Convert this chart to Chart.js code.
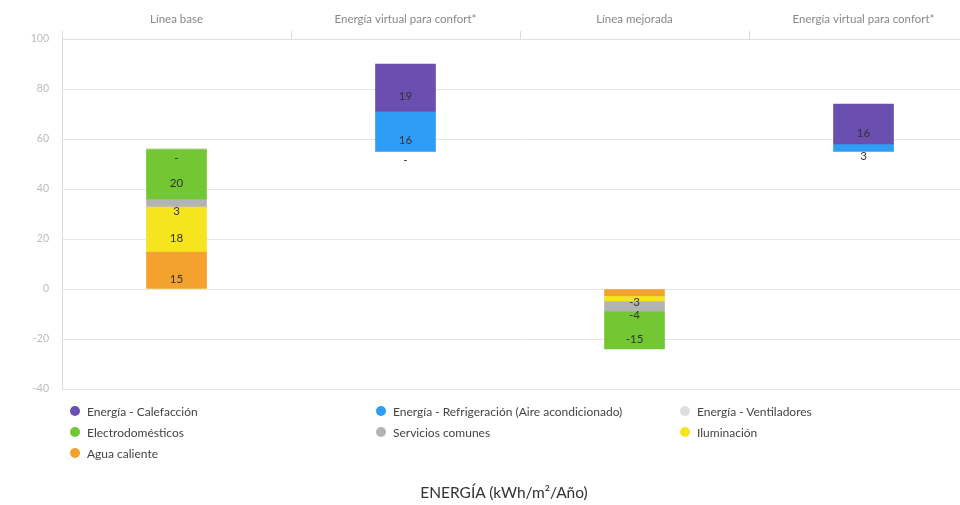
<!DOCTYPE html>
<html>
<head>
<meta charset="utf-8">
<script src="https://cdn.jsdelivr.net/npm/chart.js@4/dist/chart.umd.min.js"></script>
<style>
  html, body { margin: 0; padding: 0; background: #fff; overflow: hidden; width: 960px; height: 505px; }
  #wrap { position: absolute; left: 0; top: 0; width: 978px; height: 395px; }
  #legend { position: absolute; left: 0; top: 0; width: 960px; height: 505px; pointer-events: none;
            font-family: Lato, "Open Sans", sans-serif; font-size: 12px; color: #444; }
  .item { position: absolute; display: flex; align-items: center; white-space: nowrap; height: 14px; }
  .dot { width: 10px; height: 10px; border-radius: 50%; margin-right: 7px; flex: none; }
  #title { position: absolute; left: 0; top: 483px; width: 1008px; text-align: center;
           font-family: Lato, "Open Sans", sans-serif; font-size: 15.5px; line-height: 18px; color: #333; }
</style>
</head>
<body>
<div id="wrap"><canvas id="chart" width="978" height="395"></canvas></div>
<div id="legend"></div>
<div id="title">ENERGÍA (kWh/m²/Año)</div>
<script>
// Categories along the top axis
const categories = ['Línea base', 'Energía virtual para confort*', 'Línea mejorada', 'Energía virtual para confort*'];

// Level each column starts from (the "virtual" columns float above the baseline)
const startLevel = [0, 55, 0, 55];

// Energy by use, kWh/m²/año (null = not part of that column)
const calefaccion       = [null, 19, null, 16];
const refrigeracion     = [null, 16, null, 3];
const ventiladores      = [0, 0, null, null];
const electrodomesticos = [20, null, -15, null];
const serviciosComunes  = [3, null, -4, null];
const iluminacion       = [18, null, -2, null];
const aguaCaliente      = [15, null, -3, null];

// Value axis ticks
const yTicks = [-40, -20, 0, 20, 40, 60, 80, 100];

// Series in legend order
const series = [
  { label: 'Energía - Calefacción', values: calefaccion, color: '#6a4fb0' },
  { label: 'Energía - Refrigeración (Aire acondicionado)', values: refrigeracion, color: '#2f9cf6' },
  { label: 'Energía - Ventiladores', values: ventiladores, color: '#dedede' },
  { label: 'Electrodomésticos', values: electrodomesticos, color: '#72c732' },
  { label: 'Servicios comunes', values: serviciosComunes, color: '#b3b3b3' },
  { label: 'Iluminación', values: iluminacion, color: '#f6e41e' },
  { label: 'Agua caliente', values: aguaCaliente, color: '#f3a22e' }
];

// Stacking goes bottom-up in the reverse of the legend order
const stackOrder = series.slice().reverse();
const posLevel = startLevel.slice();
const negLevel = startLevel.slice();
stackOrder.forEach(s => {
  s.ranges = s.values.map((v, i) => {
    if (v === null) return null;
    if (v >= 0) { const a = posLevel[i]; posLevel[i] += v; return [a, posLevel[i]]; }
    const a = negLevel[i]; negLevel[i] += v; return [a, negLevel[i]];
  });
});

// Value labels, drawn just below each segment's middle; crowded ones are skipped
const segmentLabels = {
  id: 'segmentLabels',
  afterDatasetsDraw(chart) {
    const ctx = chart.ctx;
    ctx.save();
    ctx.font = '11.5px Lato, "Open Sans", sans-serif';
    ctx.fillStyle = '#333';
    ctx.textAlign = 'center';
    ctx.textBaseline = 'middle';
    categories.forEach((c, i) => {
      let lastY = null;
      stackOrder.forEach(s => {
        const v = s.values[i];
        if (v === null) return;
        const bar = chart.getDatasetMeta(series.indexOf(s)).data[i];
        const y = (bar.y + bar.base) / 2 + 9;
        if (lastY !== null && Math.abs(y - lastY) < 9) return;
        ctx.fillText(v === 0 ? '-' : String(v), bar.x, y);
        lastY = y;
      });
    });
    ctx.restore();
  }
};

new Chart(document.getElementById('chart'), {
  type: 'bar',
  data: {
    labels: categories,
    datasets: series.map(s => ({
      label: s.label,
      data: s.ranges,
      backgroundColor: s.color,
      borderWidth: 0,
      barThickness: 60,
      grouped: false
    }))
  },
  options: {
    responsive: false,
    animation: false,
    layout: { padding: { left: 0, right: 0, top: 0, bottom: 6 } },
    plugins: { legend: { display: false }, tooltip: { enabled: false } },
    scales: {
      x: {
        position: 'top',
        offset: true,
        grid: { offset: true, drawOnChartArea: false, drawTicks: true, tickLength: 8, color: '#dcdcdc' },
        border: { color: '#e0e0e0' },
        ticks: { color: '#888', padding: 5, font: { family: 'Lato', size: 11.5 }, maxRotation: 0 },
        afterFit(scale) { scale.height = 39; scale.paddingLeft = 0; scale.paddingRight = 0; }
      },
      y: {
        min: -40,
        max: 100,
        grid: { color: '#e6e6e6', drawTicks: false },
        border: { color: '#dcdcdc' },
        ticks: { color: '#bbb', padding: 13, font: { family: 'Lato', size: 10.5 } },
        afterBuildTicks(scale) { scale.ticks = yTicks.map(v => ({ value: v })); },
        afterFit(scale) { scale.width = 62; scale.paddingTop = 0; scale.paddingBottom = 0; }
      }
    }
  },
  plugins: [segmentLabels]
});

// Legend in three columns
const legendEl = document.getElementById('legend');
const colX = [70, 376, 680];
const rowY = [404, 425, 446];
series.forEach((s, k) => {
  const item = document.createElement('div');
  item.className = 'item';
  item.style.left = colX[k % 3] + 'px';
  item.style.top = rowY[Math.floor(k / 3)] + 'px';
  const dot = document.createElement('span');
  dot.className = 'dot';
  dot.style.background = s.color;
  const txt = document.createElement('span');
  txt.textContent = s.label;
  item.appendChild(dot);
  item.appendChild(txt);
  legendEl.appendChild(item);
});
</script>
</body>
</html>
